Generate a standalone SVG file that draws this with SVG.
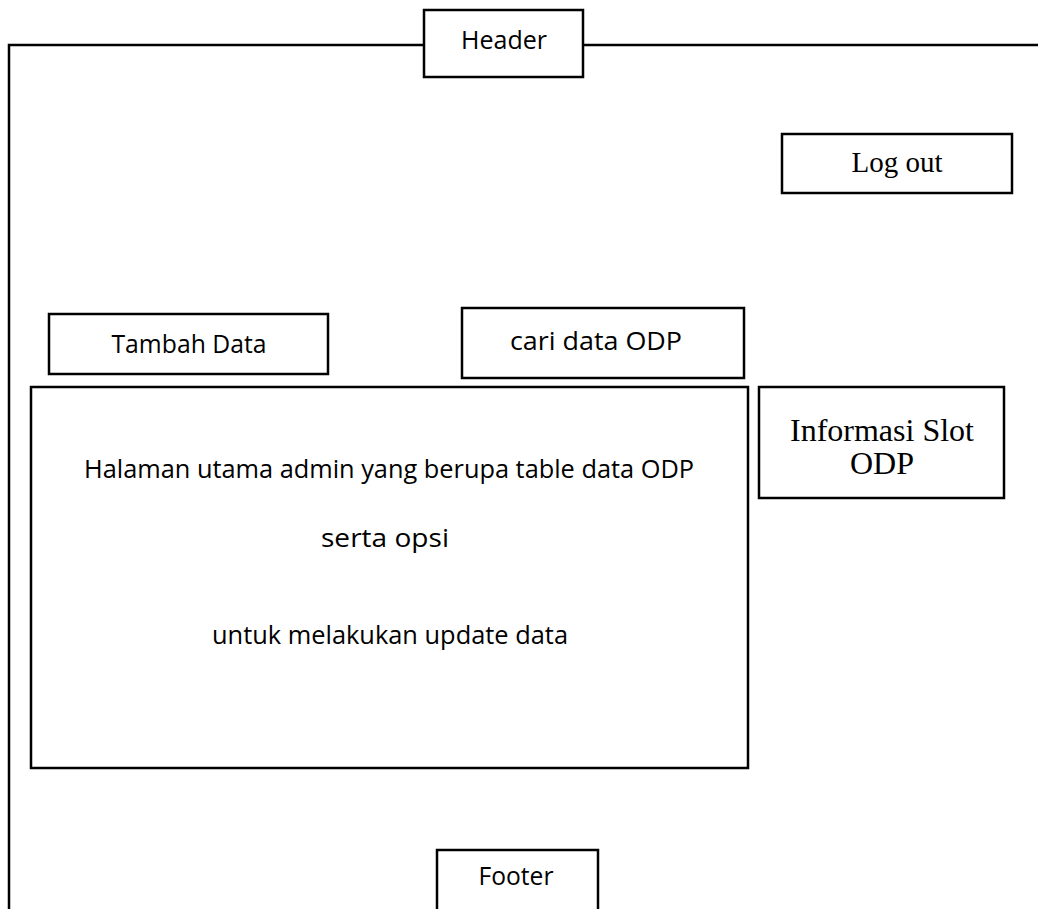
<svg xmlns="http://www.w3.org/2000/svg" width="1038" height="909" viewBox="0 0 1038 909">
  <style>
    .box { fill: #ffffff; stroke: #000000; stroke-width: 2.5; }
    .frame { fill: none; stroke: #000000; stroke-width: 2.5; }
    .sans { font-family: "Open Sans", "Liberation Sans", sans-serif; font-size: 25px; fill: #000000; text-anchor: middle; }
    .serif { font-family: "Liberation Serif", serif; fill: #000000; text-anchor: middle; }
  </style>
  <rect width="1038" height="909" fill="#ffffff"/>

  <!-- page frame: top rule and left edge -->
  <g id="connectors">
    <path class="frame" d="M9 909 V45 H1038"/>
  </g>

  <g id="header">
    <rect class="box" x="424" y="10" width="159" height="67"/>
    <text class="sans" x="504" y="49" textLength="86" lengthAdjust="spacingAndGlyphs">Header</text>
  </g>

  <g id="logout">
    <rect class="box" x="782" y="134" width="230" height="59"/>
    <text class="serif" x="897" y="172" font-size="29">Log out</text>
  </g>

  <g id="tambah-data">
    <rect class="box" x="49" y="314" width="279" height="60"/>
    <text class="sans" x="189" y="353" textLength="155" lengthAdjust="spacingAndGlyphs">Tambah Data</text>
  </g>

  <g id="cari-data">
    <rect class="box" x="462" y="308" width="282" height="70"/>
    <text class="sans" x="596" y="350" textLength="172" lengthAdjust="spacingAndGlyphs">cari data ODP</text>
  </g>

  <g id="halaman-utama">
    <rect class="box" x="31" y="387" width="717" height="381"/>
    <text class="sans" x="389" y="478" textLength="610" lengthAdjust="spacingAndGlyphs">Halaman utama admin yang berupa table data ODP</text>
    <text class="sans" x="385" y="547" textLength="128" lengthAdjust="spacingAndGlyphs">serta opsi</text>
    <text class="sans" x="390" y="644" textLength="356" lengthAdjust="spacingAndGlyphs">untuk melakukan update data</text>
  </g>

  <g id="informasi-slot">
    <rect class="box" x="759" y="387" width="245" height="111"/>
    <text class="serif" x="882" y="441" font-size="32">Informasi Slot</text>
    <text class="serif" x="882" y="474" font-size="32">ODP</text>
  </g>

  <g id="footer">
    <rect class="box" x="437" y="850" width="161" height="70"/>
    <text class="sans" x="516" y="885" textLength="75" lengthAdjust="spacingAndGlyphs">Footer</text>
  </g>
</svg>
